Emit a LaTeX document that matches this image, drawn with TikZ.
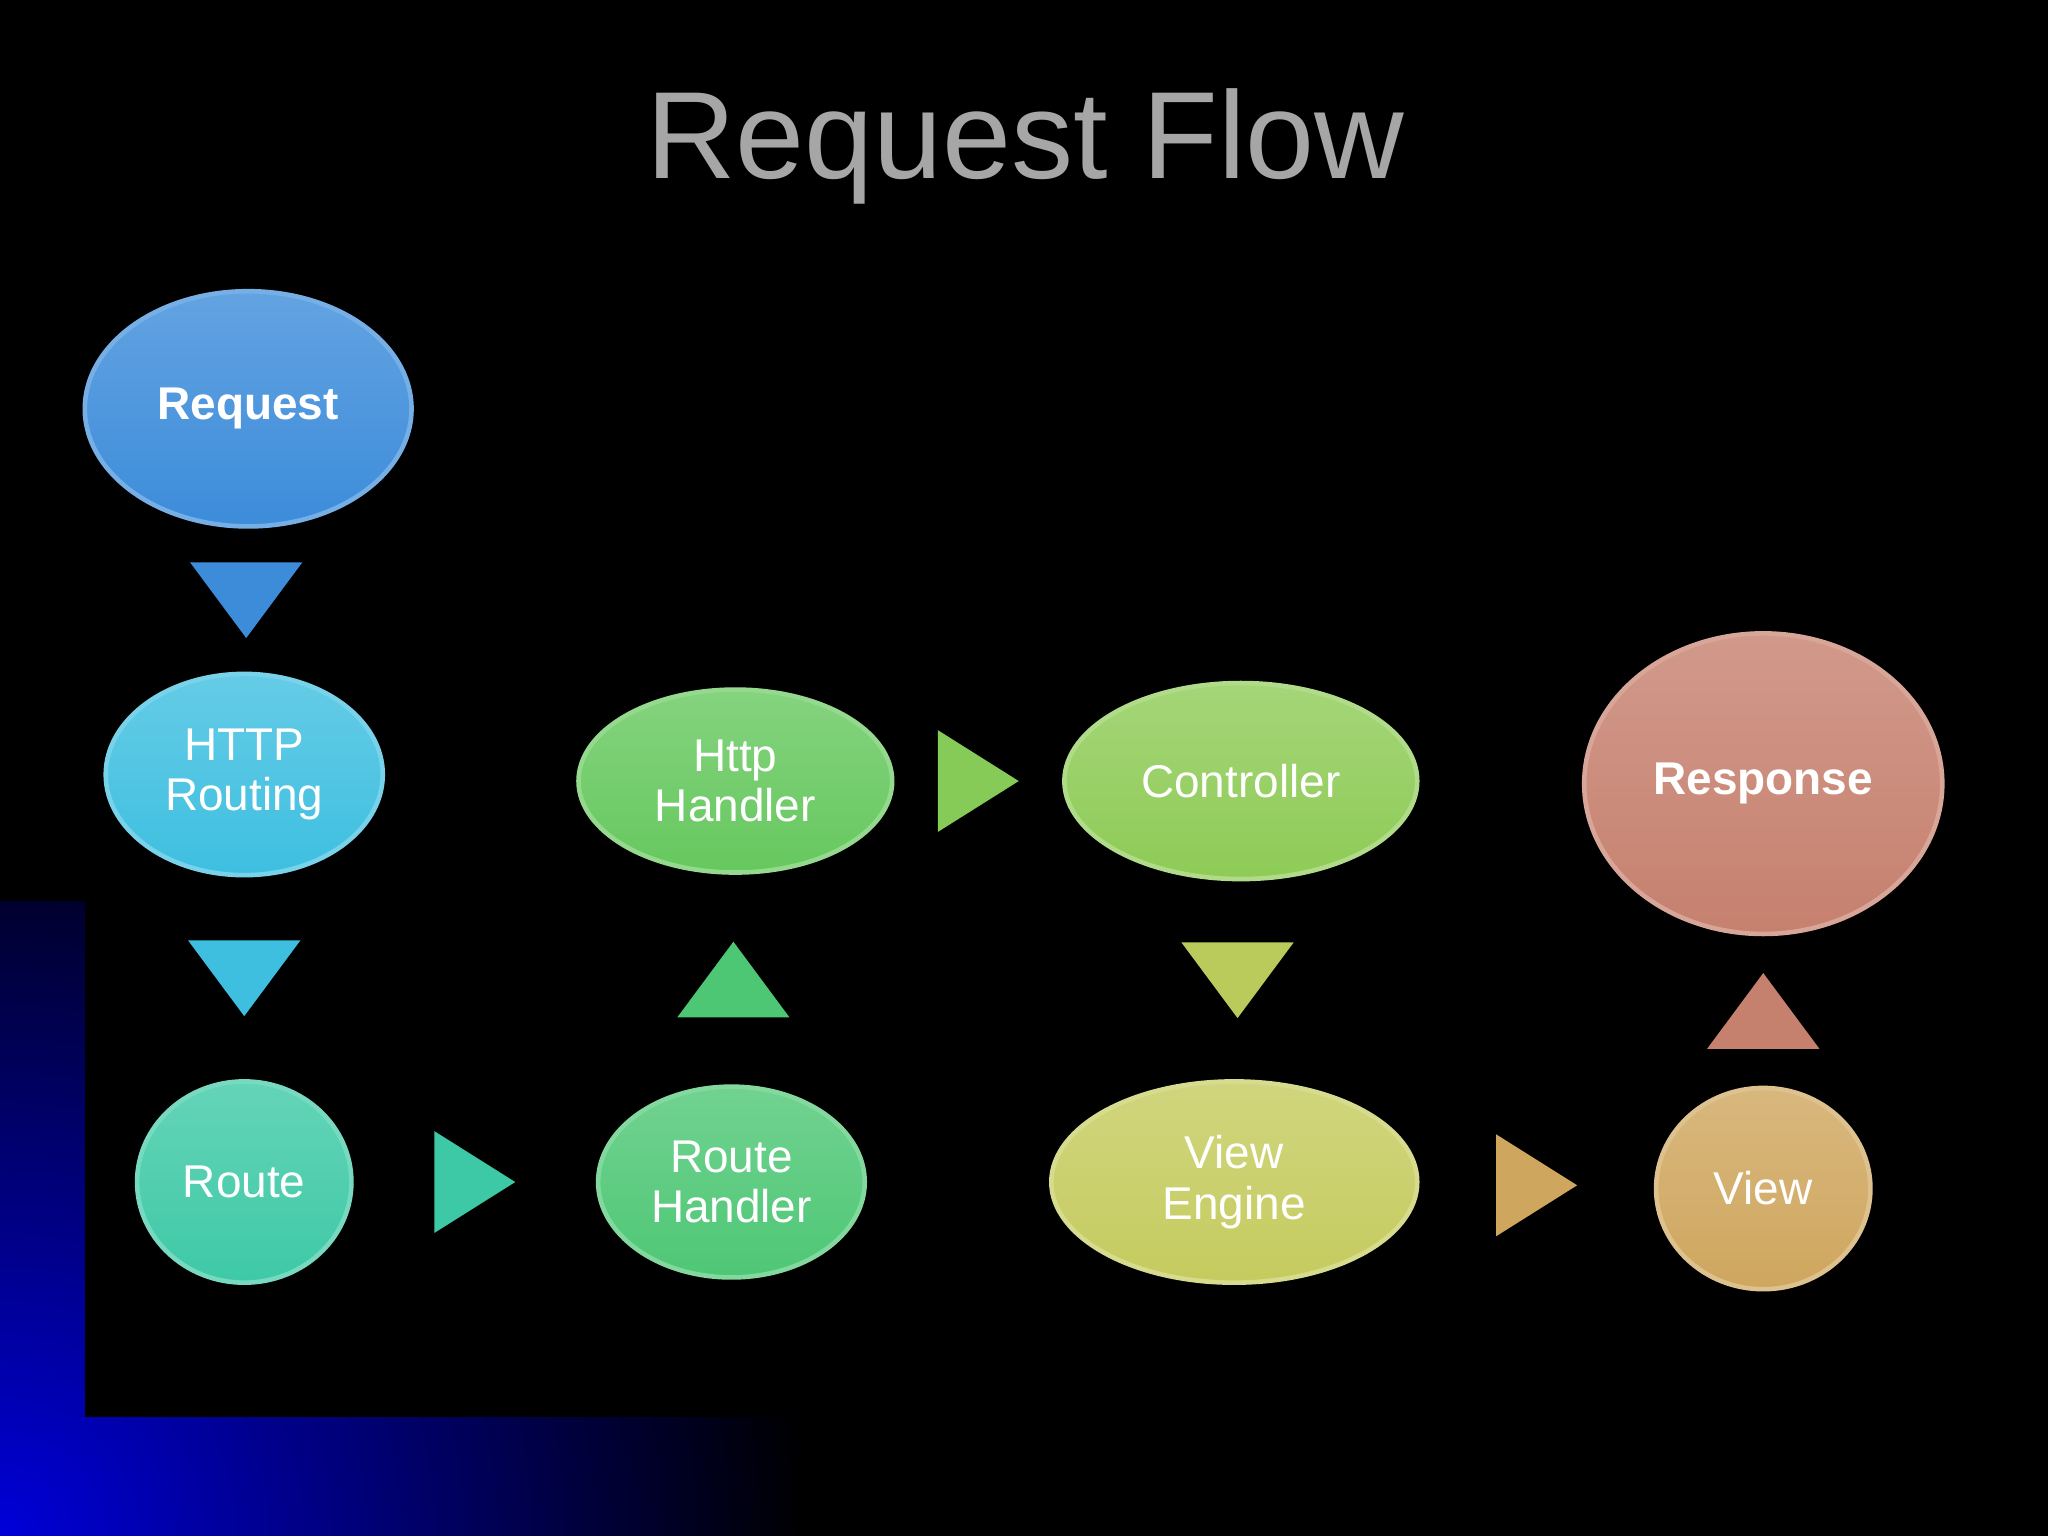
\documentclass[tikz,border=0pt]{standalone}
\usepackage{fontspec}
\setmainfont{Liberation Sans}
\usetikzlibrary{shapes.geometric,calc}
\begin{document}
\begin{tikzpicture}[x=0.01cm,y=-0.01cm,
  el/.style={ellipse,draw=#1!70!white,line width=1pt,top color=#1!80!white,bottom color=#1,
     text=white,font=\fontsize{10}{11}\selectfont,align=center,inner sep=0pt}]
\definecolor{cReq}{HTML}{3C8CDA}
\definecolor{cHttp}{HTML}{3EBFE0}
\definecolor{cRoute}{HTML}{3EC9A6}
\definecolor{cRH}{HTML}{4EC775}
\definecolor{cHH}{HTML}{66C85E}
\definecolor{cCtl}{HTML}{8ECB56}
\definecolor{cVE}{HTML}{C5CB5E}
\definecolor{cView}{HTML}{CFA65E}
\definecolor{cResp}{HTML}{C6806E}
\useasboundingbox (0,0) rectangle (1568,1176);
\fill[black] (0,0) rectangle (1568,1176);
\shade[inner color=blue!85!black,outer color=black] (0,1176) circle (620);
\fill[black] (65,0) rectangle (1568,1085);
\fill[black] (0,0) rectangle (1568,690);
\node[text=gray!70!white,font=\fontsize{27}{30}\selectfont] (title) at (785,112) {Request Flow};
\node[el=cReq,minimum width=2.5cm,minimum height=1.8cm,font=\fontsize{10}{11}\selectfont\bfseries] (req) at (190,313) {Request};
\node[el=cHttp,minimum width=2.12cm,minimum height=1.54cm] (http) at (187,593) {HTTP\\Routing};
\node[el=cRoute,minimum width=1.64cm,minimum height=1.54cm] (route) at (187,905) {Route};
\node[el=cRH,minimum width=2.04cm,minimum height=1.46cm] (rh) at (560,905) {Route\\Handler};
\node[el=cHH,minimum width=2.4cm,minimum height=1.4cm] (hh) at (563,598) {Http\\Handler};
\node[el=cCtl,minimum width=2.7cm,minimum height=1.5cm] (ctl) at (950,598) {Controller};
\node[el=cVE,minimum width=2.8cm,minimum height=1.54cm] (ve) at (945,905) {View\\Engine};
\node[el=cView,minimum width=1.64cm,minimum height=1.54cm] (view) at (1350,910) {View};
\node[el=cResp,minimum width=2.74cm,minimum height=2.3cm,font=\fontsize{10}{11}\selectfont\bfseries] (resp) at (1350,600) {Response};
% connectors drawn as triangles between node pairs
\fill[cReq,shift={($(req.south)!0.5!(http.north)$)}] (-43,-29) -- (43,-29) -- (0,29) -- cycle;
\fill[cHttp,shift={($(http.south)!0.5!(route.north)$)}] (-43,-29) -- (43,-29) -- (0,29) -- cycle;
\fill[cRoute,shift={($(route.east)!0.5!(rh.west)$)}] (-31,-39) -- (31,0) -- (-31,39) -- cycle;
\fill[cRH,shift={($(rh.north)!0.5!(hh.south)$)}] (-43,29) -- (43,29) -- (0,-29) -- cycle;
\fill[cCtl!80!cHH,shift={($(hh.east)!0.5!(ctl.west)$)}] (-31,-39) -- (31,0) -- (-31,39) -- cycle;
\fill[cVE!80!cCtl,shift={($(ctl.south)!0.5!(ve.north)$)}] (-43,-29) -- (43,-29) -- (0,29) -- cycle;
\fill[cView,shift={($(ve.east)!0.5!(view.west)$)}] (-31,-39) -- (31,0) -- (-31,39) -- cycle;
\fill[cResp,shift={($(view.north)!0.5!(resp.south)$)}] (-43,29) -- (43,29) -- (0,-29) -- cycle;
\end{tikzpicture}
\end{document}
